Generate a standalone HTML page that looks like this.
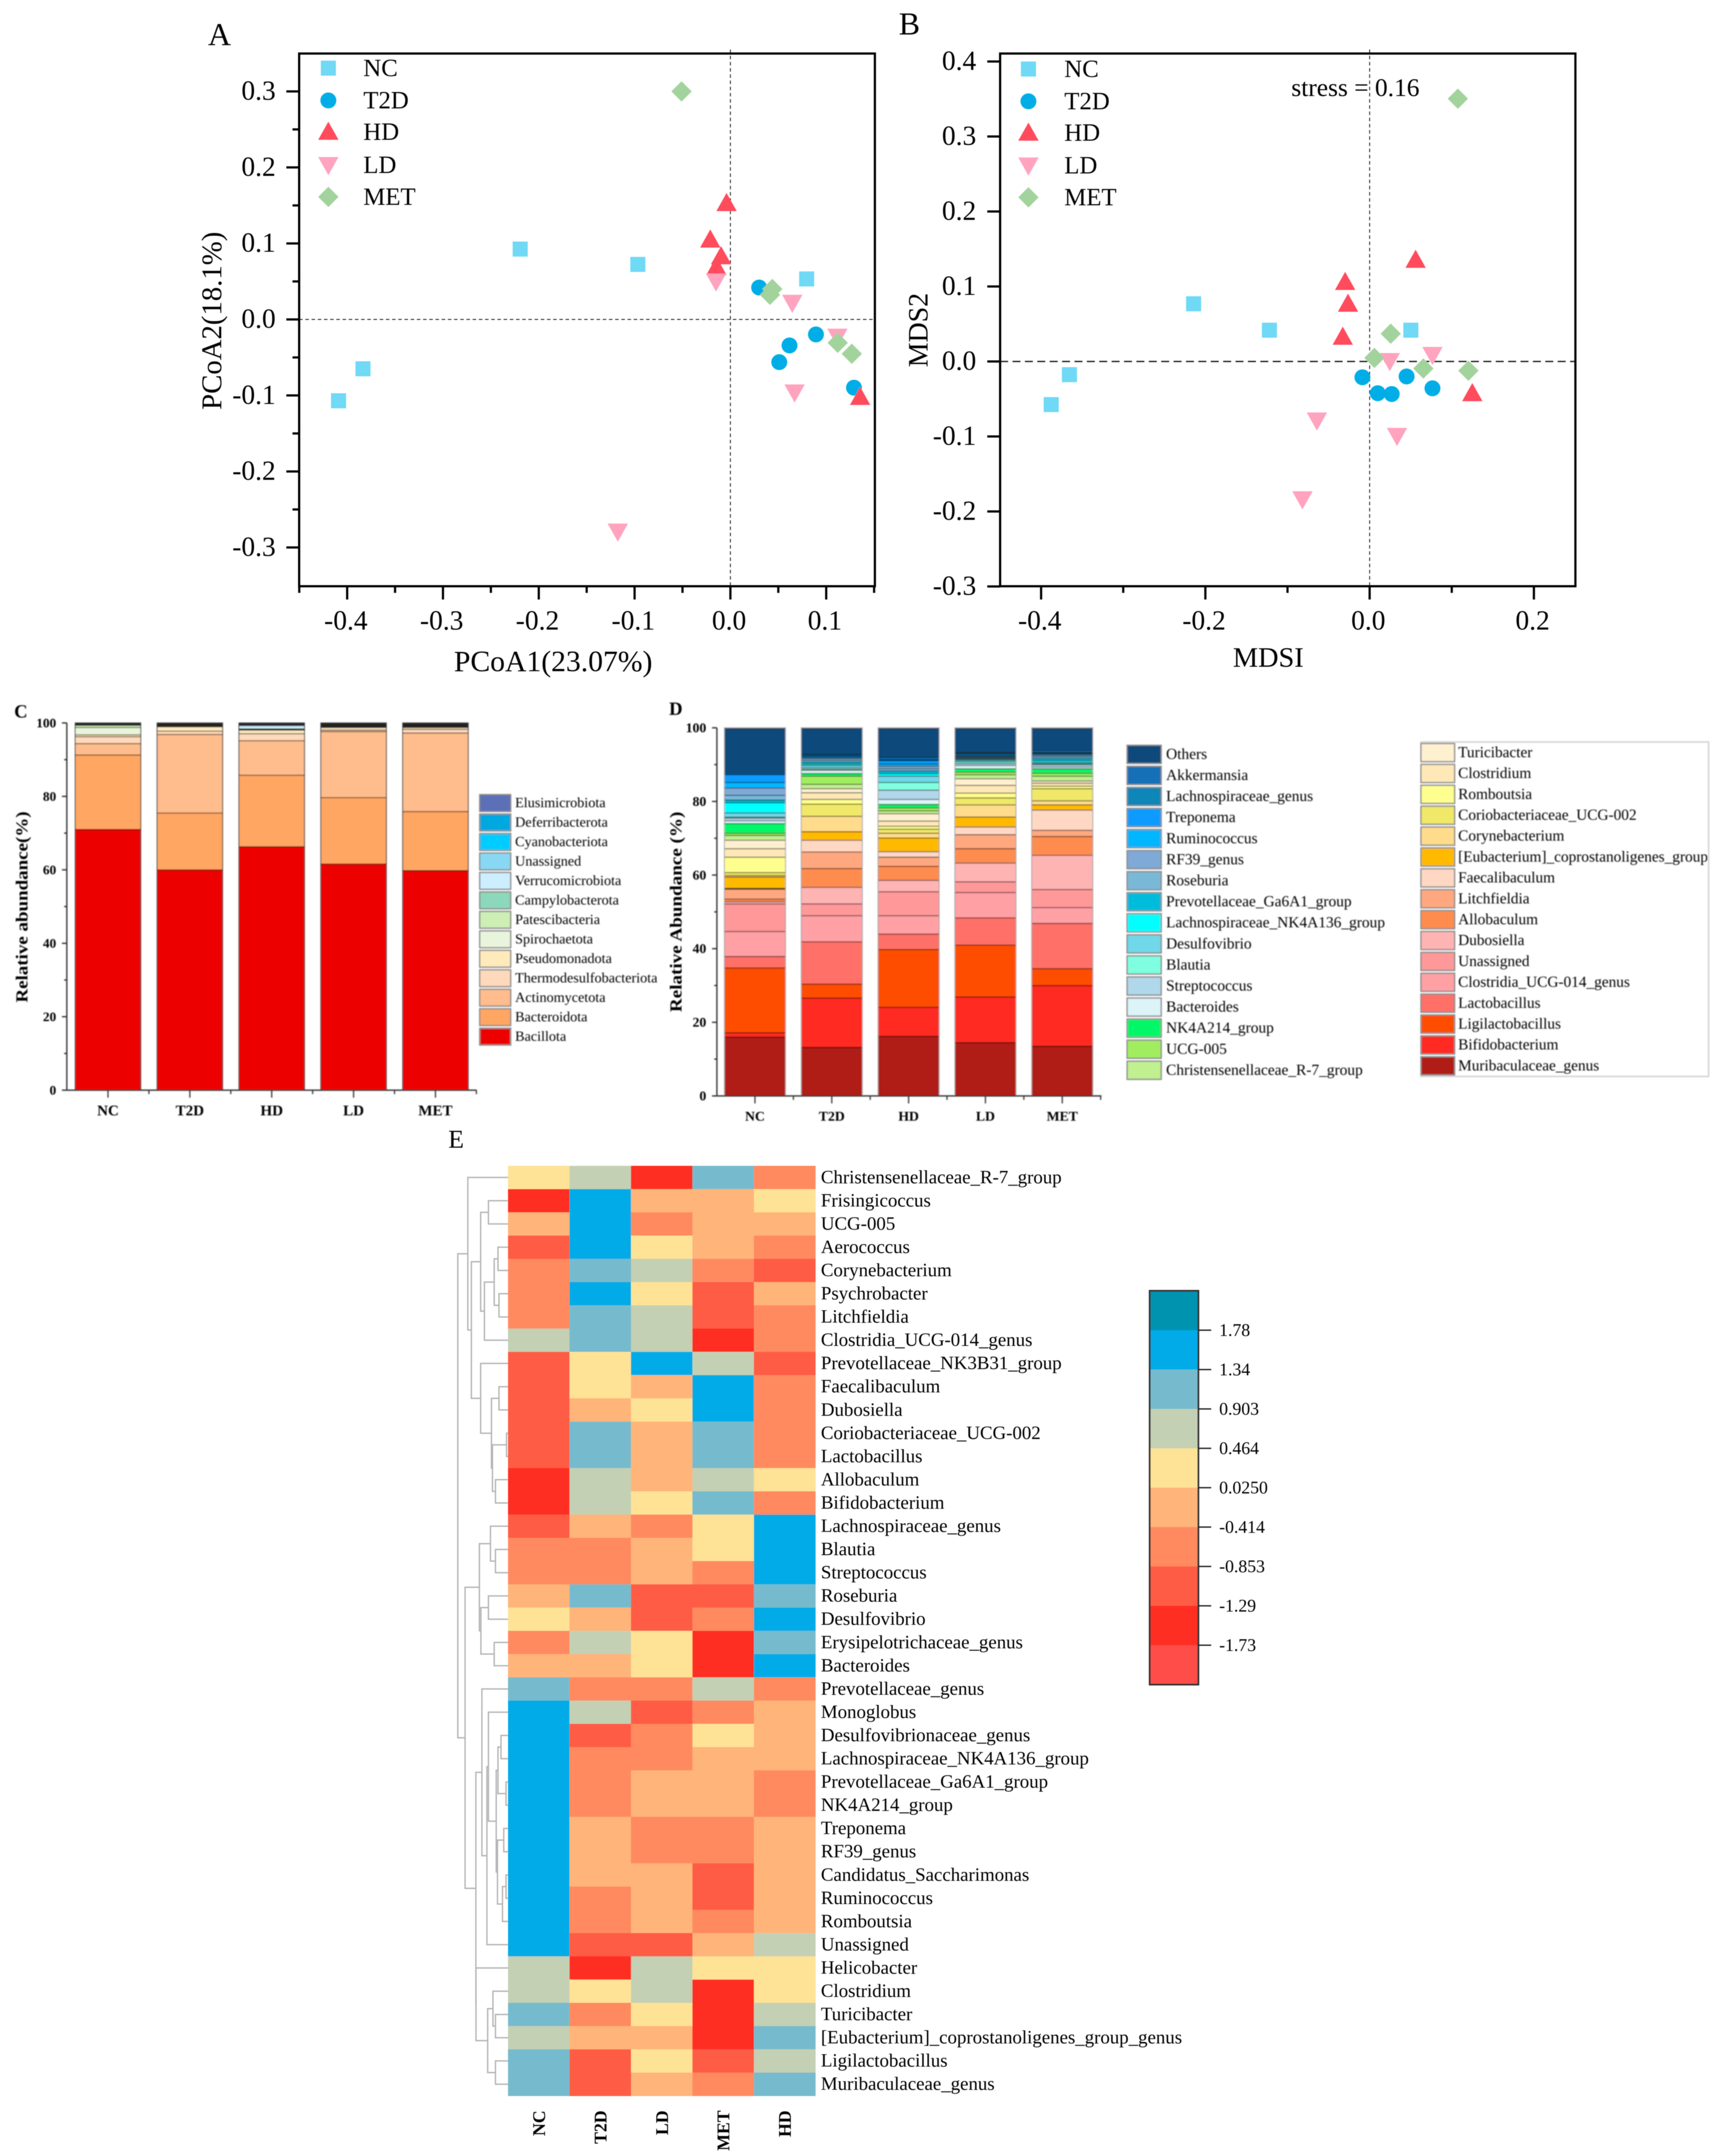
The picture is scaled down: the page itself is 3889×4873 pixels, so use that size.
<!DOCTYPE html>
<html lang="en">
<head>
<meta charset="utf-8">
<title>Gut microbiota composition figure</title>
<style>
html,body{margin:0;padding:0;background:#fff}
svg{display:block}
text{font-family:"Liberation Serif",serif;fill:#000}
.b{font-weight:bold}
</style>
</head>
<body>
<svg id="figure" xmlns="http://www.w3.org/2000/svg" width="3889" height="4873" viewBox="0 0 3889 4873">
<defs>
<filter id="soft" x="-2%" y="-2%" width="104%" height="104%"><feGaussianBlur stdDeviation="1.3"/></filter>
<filter id="softer" x="-2%" y="-2%" width="104%" height="104%"><feGaussianBlur stdDeviation="0.7"/></filter>
</defs>
<rect x="0" y="0" width="3889" height="4873" fill="#fff"/>

<g id="panelA" filter="url(#softer)">
<text x="470" y="102" font-size="72">A</text>
<text x="1250" y="1517" font-size="67" text-anchor="middle">PCoA1(23.07%)</text>
<text transform="translate(500,725) rotate(-90)" font-size="65" text-anchor="middle">PCoA2(18.1%)</text>
</g>

<g id="panelB" filter="url(#softer)">
<text x="2031" y="78" font-size="72">B</text>
<text x="2866" y="1507" font-size="64" text-anchor="middle">MDSI</text>
<text transform="translate(2096,746) rotate(-90)" font-size="63" text-anchor="middle">MDS2</text>
<text x="2918" y="217" font-size="57.5">stress = 0.16</text>
</g>

<g id="panelC" filter="url(#soft)">
<text x="32" y="1622" font-size="42" class="b">C</text>
<text transform="translate(62,2050) rotate(-90)" font-size="38" class="b" text-anchor="middle" textLength="432" lengthAdjust="spacingAndGlyphs">Relative abundance(%)</text>
</g>

<g id="panelD" filter="url(#soft)">
<text x="1512" y="1616" font-size="42" class="b">D</text>
<text transform="translate(1540,2061) rotate(-90)" font-size="38" class="b" text-anchor="middle" textLength="453" lengthAdjust="spacingAndGlyphs">Relative Abundance (%)</text>
<path d="M3209 1677 H3861 V2433 H3209" fill="none" stroke="#cfcfcf" stroke-width="3"/>
</g>

<g id="panelE" filter="url(#softer)">
<text x="1013" y="2594" font-size="58">E</text>
</g>
</svg>

<script>
// ---------- PCoA scatter values (panel A) ----------
const scatterGroups = ['NC', 'T2D', 'HD', 'LD', 'MET'];
const pcoaNcX  = [-0.2194, -0.0966, 0.0796, -0.3835, -0.409];
const pcoaNcY  = [0.0926, 0.0724, 0.0533, -0.0649, -0.107];
const pcoaT2dX = [0.030, 0.0893, 0.0617, 0.051, 0.129];
const pcoaT2dY = [0.042, -0.0197, -0.0342, -0.0562, -0.0898];
const pcoaHdX  = [-0.004, -0.021, -0.0097, -0.0146, 0.1354];
const pcoaHdY  = [0.153, 0.105, 0.083, 0.069, -0.102];
const pcoaLdX  = [-0.015, 0.0646, 0.1117, 0.067, -0.1175];
const pcoaLdY  = [0.05, 0.022, -0.0226, -0.096, -0.279];
const pcoaMetX = [-0.051, 0.0437, 0.0413, 0.112, 0.1267];
const pcoaMetY = [0.30, 0.04, 0.0324, -0.0307, -0.0452];
const pcoaXTicks = [-0.4, -0.3, -0.2, -0.1, 0.0, 0.1];
const pcoaXMinor = [-0.45, -0.35, -0.25, -0.15, -0.05, 0.05, 0.15];
const pcoaYTicks = [-0.3, -0.2, -0.1, 0.0, 0.1, 0.2, 0.3];
const pcoaYMinor = [-0.25, -0.15, -0.05, 0.05, 0.15, 0.25];

// ---------- NMDS scatter values (panel B) ----------
const nmdsNcX  = [-0.2143, -0.122, 0.0502, -0.3655, -0.3877];
const nmdsNcY  = [0.0769, 0.0417, 0.0417, -0.0176, -0.0575];
const nmdsT2dX = [-0.0088, 0.0099, 0.0269, 0.045, 0.0765];
const nmdsT2dY = [-0.0211, -0.0423, -0.0434, -0.02, -0.0358];
const nmdsHdX  = [0.056, -0.0298, -0.0263, -0.0327, 0.125];
const nmdsHdY  = [0.1355, 0.106, 0.0769, 0.0329, -0.0423];
const nmdsLdX  = [0.0765, 0.0245, -0.0642, 0.0333, -0.0818];
const nmdsLdY  = [0.0088, 0.0006, -0.0786, -0.0992, -0.1837];
const nmdsMetX = [0.1074, 0.0257, 0.0058, 0.0654, 0.1203];
const nmdsMetY = [0.3504, 0.037, 0.0047, -0.0094, -0.0123];
const nmdsXTicks = [-0.4, -0.2, 0.0, 0.2];
const nmdsXMinor = [-0.3, -0.1, 0.1];
const nmdsYTicks = [-0.3, -0.2, -0.1, 0.0, 0.1, 0.2, 0.3, 0.4];

// ---------- Phylum stacked bars (panel C) ----------
const barGroups = ['NC', 'T2D', 'HD', 'LD', 'MET'];
const phylumNames = ['Bacillota', 'Bacteroidota', 'Actinomycetota', 'Thermodesulfobacteriota', 'Pseudomonadota', 'Spirochaetota', 'Patescibacteria', 'Campylobacterota', 'Verrucomicrobiota', 'Unassigned', 'Cyanobacteriota', 'Deferribacterota', 'Elusimicrobiota'];
const phylumColors = ['#ec0000', '#ffa664', '#ffbc8c', '#ffd9bc', '#ffeabb', '#e8f4dc', '#cdeeb4', '#8cd8bc', '#cceeff', '#88d8f4', '#00ccff', '#00a8e0', '#5c70b8'];
const phylumNC  = [71.1, 20.3, 3.1, 1.9, 0.5, 2.0, 0.6, 0.1, 0.1, 0.1, 0.1, 0.05, 0.05];
const phylumT2D = [60.1, 15.5, 21.4, 0.9, 1.2, 0.1, 0.1, 0.1, 0.1, 0.1, 0.1, 0.2, 0.1];
const phylumHD  = [66.4, 19.5, 9.4, 1.9, 1.0, 0.1, 0.1, 0.1, 0.9, 0.2, 0.2, 0.1, 0.1];
const phylumLD  = [61.7, 18.1, 18.0, 0.4, 0.7, 0.1, 0.1, 0.1, 0.1, 0.1, 0.2, 0.2, 0.2];
const phylumMET = [59.9, 16.1, 21.4, 1.0, 0.5, 0.1, 0.1, 0.1, 0.1, 0.1, 0.2, 0.2, 0.2];
const stackYTicks = [0, 20, 40, 60, 80, 100];

// ---------- Genus stacked bars (panel D) ----------
const genusNames = ['Muribaculaceae_genus', 'Bifidobacterium', 'Ligilactobacillus', 'Lactobacillus', 'Clostridia_UCG-014_genus', 'Unassigned', 'Dubosiella', 'Allobaculum', 'Litchfieldia', 'Faecalibaculum', '[Eubacterium]_coprostanoligenes_group', 'Corynebacterium', 'Coriobacteriaceae_UCG-002', 'Romboutsia', 'Clostridium', 'Turicibacter', 'Christensenellaceae_R-7_group', 'UCG-005', 'NK4A214_group', 'Bacteroides', 'Streptococcus', 'Blautia', 'Desulfovibrio', 'Lachnospiraceae_NK4A136_group', 'Prevotellaceae_Ga6A1_group', 'Roseburia', 'RF39_genus', 'Ruminococcus', 'Treponema', 'Lachnospiraceae_genus', 'Akkermansia', 'Others'];
const genusColors = ['#b01a12', '#ff2c22', '#ff4e00', '#ff7068', '#ffa0a4', '#ff9898', '#ffb4b4', '#ff8c50', '#ffa880', '#ffd8c4', '#ffba00', '#ffdc8c', '#f0e868', '#ffff90', '#ffe8b8', '#fff0d0', '#c0f090', '#a0ee60', '#00f868', '#dcf3f8', '#b0d8ea', '#80ffe0', '#70d8e8', '#00ffff', '#00bcdc', '#7ab8d8', '#7fa9d6', '#00b7ff', '#0a9bff', '#0a86b8', '#1270b8', '#0b4a7a'];
const genusNC  = [16.1, 1.2, 17.6, 3.1, 6.8, 7.5, 0.6, 0.7, 2.7, 0.2, 3.1, 0.4, 0.8, 4.2, 2.3, 2.3, 1.3, 0.6, 2.6, 0.8, 0.7, 0.3, 1.1, 2.8, 0.7, 1.3, 2.0, 1.5, 2.1, 0, 0, 12.6];
const genusT2D = [13.3, 13.4, 3.8, 11.5, 7.1, 3.2, 4.5, 5.1, 4.5, 3.2, 2.3, 4.2, 3.3, 1.3, 1.8, 1.1, 1.2, 2.2, 0.7, 0.9, 0.3, 0.4, 0.6, 0.4, 0.5, 0.5, 0.5, 0.3, 0.3, 0.3, 0.3, 7.0];
const genusHD  = [16.3, 7.9, 15.7, 4.2, 5.0, 6.5, 3.1, 3.8, 2.5, 1.5, 3.7, 1.3, 1.1, 0.8, 1.4, 2.0, 0.8, 0.8, 0.9, 1.4, 2.5, 2.1, 1.7, 0.7, 0.7, 0.6, 0.7, 0.6, 0.9, 0.3, 0.6, 7.9];
const genusLD  = [14.6, 12.4, 14.1, 7.4, 6.9, 2.9, 5.1, 3.9, 3.8, 2.1, 2.7, 3.3, 1.9, 1.3, 2.1, 1.8, 1.1, 0.7, 0.9, 0.9, 0.5, 0.5, 0.4, 0.3, 0.2, 0.3, 0.2, 0.3, 0.3, 0.3, 0.2, 6.6];
const genusMET = [13.6, 16.5, 4.6, 12.3, 4.3, 4.9, 9.3, 5.1, 1.7, 5.5, 1.4, 1.1, 3.3, 0.7, 0.8, 0.6, 1.3, 0.8, 1.2, 0.5, 0.6, 0.3, 0.3, 0.5, 0.6, 0.5, 0.4, 0.3, 0.2, 0.3, 0.5, 6.0];

// ---------- Heatmap (panel E) ----------
const heatRows = ['Christensenellaceae_R-7_group', 'Frisingicoccus', 'UCG-005', 'Aerococcus', 'Corynebacterium', 'Psychrobacter', 'Litchfieldia', 'Clostridia_UCG-014_genus', 'Prevotellaceae_NK3B31_group', 'Faecalibaculum', 'Dubosiella', 'Coriobacteriaceae_UCG-002', 'Lactobacillus', 'Allobaculum', 'Bifidobacterium', 'Lachnospiraceae_genus', 'Blautia', 'Streptococcus', 'Roseburia', 'Desulfovibrio', 'Erysipelotrichaceae_genus', 'Bacteroides', 'Prevotellaceae_genus', 'Monoglobus', 'Desulfovibrionaceae_genus', 'Lachnospiraceae_NK4A136_group', 'Prevotellaceae_Ga6A1_group', 'NK4A214_group', 'Treponema', 'RF39_genus', 'Candidatus_Saccharimonas', 'Ruminococcus', 'Romboutsia', 'Unassigned', 'Helicobacter', 'Clostridium', 'Turicibacter', '[Eubacterium]_coprostanoligenes_group_genus', 'Ligilactobacillus', 'Muribaculaceae_genus'];
const heatColumns = ['NC', 'T2D', 'LD', 'MET', 'HD'];
const heatNC  = [0.24, -1.51, -0.19, -1.07, -0.63, -0.63, -0.63, 0.68, -1.07, -1.07, -1.07, -1.07, -1.07, -1.51, -1.51, -1.07, -0.63, -0.63, -0.19, 0.24, -0.63, -0.19, 1.12, 1.56, 1.56, 1.56, 1.56, 1.56, 1.56, 1.56, 1.56, 1.56, 1.56, 1.56, 0.68, 0.68, 1.12, 0.68, 1.12, 1.12];
const heatT2D = [0.68, 1.56, 1.56, 1.56, 1.12, 1.56, 1.12, 1.12, 0.24, 0.24, -0.19, 1.12, 1.12, 0.68, 0.68, -0.19, -0.63, -0.63, 1.12, -0.19, 0.68, -0.19, -0.63, 0.68, -1.07, -0.63, -0.63, -0.63, -0.19, -0.19, -0.19, -0.63, -0.63, -1.07, -1.51, 0.24, -0.63, -0.19, -1.07, -1.07];
const heatLD  = [-1.51, -0.19, -0.63, 0.24, 0.68, 0.24, 0.68, 0.68, 1.56, -0.19, 0.24, -0.19, -0.19, -0.19, 0.24, -0.63, -0.19, -0.19, -1.07, -1.07, 0.24, 0.24, -0.63, -1.07, -0.63, -0.63, -0.19, -0.19, -0.63, -0.63, -0.19, -0.19, -0.19, -1.07, 0.68, 0.68, 0.24, -0.19, 0.24, -0.19];
const heatMET = [1.12, -0.19, -0.19, -0.19, -0.63, -1.07, -1.07, -1.51, 0.68, 1.56, 1.56, 1.12, 1.12, 0.68, 1.12, 0.24, 0.24, -0.63, -1.07, -0.63, -1.51, -1.51, 0.68, -0.63, 0.24, -0.19, -0.19, -0.19, -0.63, -0.63, -1.07, -1.07, -0.63, -0.19, 0.24, -1.51, -1.51, -1.51, -1.07, -0.63];
const heatHD  = [-0.63, 0.24, -0.19, -0.63, -1.07, -0.19, -0.63, -0.63, -1.07, -0.63, -0.63, -0.63, -0.63, 0.24, -0.63, 1.56, 1.56, 1.56, 1.12, 1.56, 1.12, 1.56, -0.63, -0.19, -0.19, -0.19, -0.63, -0.63, -0.19, -0.19, -0.19, -0.19, -0.19, 0.68, 0.24, 0.24, 0.68, 1.12, 0.68, 1.12];
const scaleTicks = [1.78, 1.34, 0.903, 0.464, 0.025, -0.414, -0.853, -1.29, -1.73];
const scaleTickLabels = ['1.78', '1.34', '0.903', '0.464', '0.0250', '-0.414', '-0.853', '-1.29', '-1.73'];
const scaleColors = ['#0093b0', '#00abe8', '#76bbcd', '#c4d0b3', '#fee296', '#ffb47a', '#ff8a60', '#ff5c44', '#ff2e22', '#ff4d48'];
// Dendrogram merges: [merge distance, child, child]; numeric children are row indexes.
const dendroTree = [1, [0.8, 0, [0.73, [0.545, [0.39, 1, 2], [0.47, [0.275, [0.2, 3, 4], [0.18, 5, 6]], 7]], [0.545, 8, [0.33, [0.18, 9, 10], [0.31, [0.03, 11, 12], [0.25, 13, 14]]]]]], [0.855, [0.57, [0.35, 15, [0.25, 16, 17]], [0.54, [0.39, 18, 19], [0.275, 20, 21]]], [0.64, [0.52, 22, [0.42, [0.39, 23, [0.235, [0.2, [0.14, 24, 25], [0.04, 26, 27]], [0.21, [0.085, 28, 29], [0.11, [0.04, 30, 31], 32]]]], 33]], [0.638, 34, [0.405, [0.3, 35, [0.25, 36, 37]], [0.25, 38, 39]]]]]];

// ---------- helpers ----------
const NS = 'http://www.w3.org/2000/svg';
function mk(parent, tag, attrs, txt) {
  const el = document.createElementNS(NS, tag);
  for (const k in attrs) el.setAttribute(k, attrs[k]);
  if (txt !== undefined) el.textContent = txt;
  parent.appendChild(el);
  return el;
}
function darken(hex, f) {
  const n = parseInt(hex.slice(1), 16);
  const r = Math.round(((n >> 16) & 255) * f), g = Math.round(((n >> 8) & 255) * f), b = Math.round((n & 255) * f);
  return 'rgb(' + r + ',' + g + ',' + b + ')';
}
const markerShape = { NC: 'square', T2D: 'circle', HD: 'up', LD: 'down', MET: 'diamond' };
const markerColor = { NC: '#6fd9f5', T2D: '#00ade6', HD: '#ff4b5c', LD: '#ffa3bf', MET: '#a3d39c' };
function marker(parent, group, cx, cy) {
  const shape = markerShape[group], fill = markerColor[group];
  if (shape === 'square') return mk(parent, 'rect', { x: cx - 17, y: cy - 17, width: 34, height: 34, fill: fill });
  if (shape === 'circle') return mk(parent, 'circle', { cx: cx, cy: cy, r: 18, fill: fill });
  if (shape === 'up') return mk(parent, 'polygon', { points: (cx) + ',' + (cy - 23) + ' ' + (cx + 23) + ',' + (cy + 18) + ' ' + (cx - 23) + ',' + (cy + 18), fill: fill });
  if (shape === 'down') return mk(parent, 'polygon', { points: (cx) + ',' + (cy + 23) + ' ' + (cx + 23) + ',' + (cy - 18) + ' ' + (cx - 23) + ',' + (cy - 18), fill: fill });
  return mk(parent, 'polygon', { points: (cx) + ',' + (cy - 23) + ' ' + (cx + 23) + ',' + (cy) + ' ' + (cx) + ',' + (cy + 23) + ' ' + (cx - 23) + ',' + (cy), fill: fill });
}

function drawScatter(cfg) {
  const g = cfg.parent;
  const xOf = cfg.xOf, yOf = cfg.yOf;
  // zero lines
  const hz = mk(g, 'line', { x1: cfg.left, x2: cfg.right, y1: yOf(0), y2: yOf(0), stroke: '#222', 'stroke-width': cfg.hzWidth, 'stroke-dasharray': cfg.hzDash });
  
  
  const vt = mk(g, 'line', { x1: xOf(0), x2: xOf(0), y1: cfg.top - 9, y2: cfg.bottom, stroke: '#222', 'stroke-width': 2, 'stroke-dasharray': '8 6' });
  
  
  // marks
  scatterGroups.forEach(function (group, gi) {
    const xs = cfg.xs[gi], ys = cfg.ys[gi];
    xs.forEach(function (v, i) {
      const m = marker(g, group, xOf(v), yOf(ys[i]));
      
      
    });
  });
  // frame
  const fr = mk(g, 'rect', { x: cfg.left, y: cfg.top, width: cfg.right - cfg.left, height: cfg.bottom - cfg.top, fill: 'none', stroke: '#000', 'stroke-width': 5 });
  
  
  // x ticks
  cfg.xTicks.forEach(function (v) {
    const t = mk(g, 'line', { x1: xOf(v), x2: xOf(v), y1: cfg.bottom, y2: cfg.bottom + 30, stroke: '#000', 'stroke-width': 5 });
    
    
    const l = mk(g, 'text', { x: xOf(v) - 3, y: 1423, 'font-size': 62, 'text-anchor': 'middle' }, v.toFixed(1));
    
    
  });
  cfg.xMinor.forEach(function (v) {
    const t = mk(g, 'line', { x1: xOf(v), x2: xOf(v), y1: cfg.bottom, y2: cfg.bottom + 15, stroke: '#000', 'stroke-width': 5 });
    
    
  });
  // y ticks
  cfg.yTicks.forEach(function (v) {
    const t = mk(g, 'line', { x1: cfg.left - 29, x2: cfg.left, y1: yOf(v), y2: yOf(v), stroke: '#000', 'stroke-width': 5 });
    
    
    const l = mk(g, 'text', { x: cfg.yLabelRight, y: yOf(v) + 19, 'font-size': 62, 'text-anchor': 'end' }, v.toFixed(1));
    
    
  });
  cfg.yMinor.forEach(function (v) {
    const t = mk(g, 'line', { x1: cfg.left - 15, x2: cfg.left, y1: yOf(v), y2: yOf(v), stroke: '#000', 'stroke-width': 5 });
    
    
  });
  // legend
  scatterGroups.forEach(function (group, gi) {
    const ly = cfg.legendY[gi];
    const m = marker(g, group, cfg.legendX, ly);
    
    
    const l = mk(g, 'text', { x: cfg.legendTextX, y: ly + 18, 'font-size': 56 }, group);
    
    
  });
}

drawScatter({
  parent: document.getElementById('panelA'),
  xOf: function (v) { return 1650.5 + v * 2165; },
  yOf: function (v) { return 722 - v * 1718; },
  left: 676, right: 1977, top: 121, bottom: 1325,
  hzWidth: 2, hzDash: '8 6',
  xs: [pcoaNcX, pcoaT2dX, pcoaHdX, pcoaLdX, pcoaMetX],
  ys: [pcoaNcY, pcoaT2dY, pcoaHdY, pcoaLdY, pcoaMetY],
  xTicks: pcoaXTicks, xMinor: pcoaXMinor, yTicks: pcoaYTicks, yMinor: pcoaYMinor,
  yLabelRight: 623,
  legendX: 742, legendTextX: 821, legendY: [154, 227, 298, 373, 445]
});
drawScatter({
  parent: document.getElementById('panelB'),
  xOf: function (v) { return 3095 + v * 1856; },
  yOf: function (v) { return 817 - v * 1695; },
  left: 2260, right: 3560, top: 121, bottom: 1325,
  hzWidth: 3, hzDash: '18 10',
  xs: [nmdsNcX, nmdsT2dX, nmdsHdX, nmdsLdX, nmdsMetX],
  ys: [nmdsNcY, nmdsT2dY, nmdsHdY, nmdsLdY, nmdsMetY],
  xTicks: nmdsXTicks, xMinor: nmdsXMinor, yTicks: nmdsYTicks, yMinor: [],
  yLabelRight: 2206,
  legendX: 2324, legendTextX: 2405, legendY: [156, 229, 300, 374, 446]
});

function drawStack(cfg) {
  const g = cfg.parent;
  const yOf = function (v) { return cfg.bottom - v * (cfg.bottom - cfg.top) / 100; };
  const barX = function (i) { return cfg.firstBar + i * cfg.step; };
  barGroups.forEach(function (group, gi) {
    const vals = cfg.values[gi];
    let acc = 0;
    vals.forEach(function (v, si) {
      const y1 = yOf(acc + v), y0 = yOf(acc);
      acc += v;
      if (v <= 0) return;
      const r = mk(g, 'rect', { x: barX(gi), y: y1, width: cfg.barW, height: Math.max(0, y0 - y1), fill: cfg.colors[si] });
      
      
      const ln = mk(g, 'line', { x1: barX(gi), x2: barX(gi) + cfg.barW, y1: y1 + 1, y2: y1 + 1, stroke: v < 0.3 ? '#222' : darken(cfg.colors[si], 0.5), 'stroke-width': 3 });
      
      
    });
    const box = mk(g, 'rect', { x: barX(gi), y: yOf(100), width: cfg.barW, height: cfg.bottom - yOf(100), fill: 'none', stroke: cfg.sideStroke, 'stroke-width': 2 });
    
    
    const cx = barX(gi) + cfg.barW / 2;
    const tk = mk(g, 'line', { x1: cx, x2: cx, y1: cfg.bottom, y2: cfg.bottom + 17, stroke: '#444', 'stroke-width': 3 });
    
    
    const lab = mk(g, 'text', { x: cx, y: cfg.xLabelY, 'font-size': cfg.xFont, 'text-anchor': 'middle', 'class': 'b' }, group);
    
    
    const mt = mk(g, 'line', { x1: cx + cfg.step / 2, x2: cx + cfg.step / 2, y1: cfg.bottom, y2: cfg.bottom + 9, stroke: '#444', 'stroke-width': 3 });
    
    
  });
  const axX = mk(g, 'line', { x1: cfg.axisX, x2: cfg.axisRight, y1: cfg.bottom, y2: cfg.bottom, stroke: '#333', 'stroke-width': 3 });
  
  
  const axY = mk(g, 'line', { x1: cfg.axisX, x2: cfg.axisX, y1: cfg.top, y2: cfg.bottom, stroke: '#333', 'stroke-width': 3 });
  
  
  stackYTicks.forEach(function (v) {
    const t = mk(g, 'line', { x1: cfg.axisX - 11, x2: cfg.axisX, y1: yOf(v), y2: yOf(v), stroke: '#333', 'stroke-width': 3 });
    
    
    const l = mk(g, 'text', { x: cfg.yLabelRight, y: yOf(v) + 10, 'font-size': cfg.yFont, 'text-anchor': 'end', 'class': 'b' }, String(v));
    
    
    if (v < 100) {
      const mt = mk(g, 'line', { x1: cfg.axisX - 6, x2: cfg.axisX, y1: yOf(v + 10), y2: yOf(v + 10), stroke: '#333', 'stroke-width': 3 });
      
      
    }
  });
}

function legendRows(parent, names, colors, x, y0, step, swW, swH, textX, font) {
  names.forEach(function (name, i) {
    const cy = y0 + i * step;
    const sw = mk(parent, 'rect', { x: x, y: cy - swH / 2, width: swW, height: swH, fill: colors[i], stroke: '#8c8c8c', 'stroke-width': 3 });
    
    
    const t = mk(parent, 'text', { x: textX, y: cy + font * 0.3, 'font-size': font }, name);
    
    
  });
}

const panelC = document.getElementById('panelC');
drawStack({
  parent: panelC, top: 1634, bottom: 2464, firstBar: 170, step: 185, barW: 148,
  values: [phylumNC, phylumT2D, phylumHD, phylumLD, phylumMET], colors: phylumColors,
  sideStroke: '#3c3c3c', axisX: 151, axisRight: 1077, yLabelRight: 127, yFont: 30, xFont: 34, xLabelY: 2521
});
legendRows(panelC, phylumNames.slice().reverse(), phylumColors.slice().reverse(), 1084, 1815, 44, 70, 38, 1164, 32);

const panelD = document.getElementById('panelD');
drawStack({
  parent: panelD, top: 1645, bottom: 2477, firstBar: 1637, step: 173.6, barW: 138,
  values: [genusNC, genusT2D, genusHD, genusLD, genusMET], colors: genusColors,
  sideStroke: '#a5a5a5', axisX: 1620, axisRight: 2489, yLabelRight: 1596, yFont: 31, xFont: 31, xLabelY: 2533
});
const genusRev = genusNames.slice().reverse(), genusColRev = genusColors.slice().reverse();
legendRows(panelD, genusRev.slice(0, 16), genusColRev.slice(0, 16), 2547, 1705, 47.6, 77, 41, 2635, 34.8);
legendRows(panelD, genusRev.slice(16), genusColRev.slice(16), 3211, 1701, 47.2, 76, 41, 3295, 34.6);

// ---------- heatmap ----------
const panelE = document.getElementById('panelE');
const hmLeft = 1148, hmTop = 2635, hmColW = 138.9, hmRowH = 52.55;
function heatColor(v) {
  for (let i = 0; i < scaleTicks.length; i++) if (v >= scaleTicks[i]) return scaleColors[i];
  return scaleColors[scaleColors.length - 1];
}
[heatNC, heatT2D, heatLD, heatMET, heatHD].forEach(function (col, ci) {
  col.forEach(function (v, ri) {
    const cell = mk(panelE, 'rect', { x: hmLeft + ci * hmColW, y: hmTop + ri * hmRowH, width: hmColW + 0.5, height: hmRowH + 0.5, fill: heatColor(v) });
    
    
  });
  const cx = hmLeft + (ci + 0.5) * hmColW;
  const lab = mk(panelE, 'text', { transform: 'translate(' + (cx + 14) + ',4770) rotate(-90)', 'font-size': 40, 'text-anchor': 'end', 'class': 'b' }, heatColumns[ci]);
  
  
});
heatRows.forEach(function (name, ri) {
  const t = mk(panelE, 'text', { x: 1855, y: hmTop + (ri + 0.5) * hmRowH + 13, 'font-size': 42.6 }, name);
  
  
});
function drawDendro(node) {
  if (typeof node === 'number') return { x: hmLeft, y: hmTop + (node + 0.5) * hmRowH };
  const a = drawDendro(node[1]), b = drawDendro(node[2]);
  const x = hmLeft - node[0] * 113.5;
  const p = mk(panelE, 'path', { d: 'M' + a.x + ' ' + a.y + 'H' + x + 'V' + b.y + 'H' + b.x, fill: 'none', stroke: '#b4b4b4', 'stroke-width': 3 });
  
  
  return { x: x, y: (a.y + b.y) / 2 };
}
drawDendro(dendroTree);

// ---------- colour scale ----------
const cbTop = 2917.5, cbSeg = 89, cbLeft = 2598, cbW = 110;
scaleColors.forEach(function (c, i) {
  const r = mk(panelE, 'rect', { x: cbLeft, y: cbTop + i * cbSeg, width: cbW, height: cbSeg + 0.5, fill: c });
  
  
});
const cbFrame = mk(panelE, 'rect', { x: cbLeft, y: cbTop, width: cbW, height: cbSeg * scaleColors.length, fill: 'none', stroke: '#333', 'stroke-width': 4 });


scaleTickLabels.forEach(function (lab, i) {
  const y = cbTop + (i + 1) * cbSeg;
  const t = mk(panelE, 'line', { x1: cbLeft + cbW, x2: cbLeft + cbW + 29, y1: y, y2: y, stroke: '#222', 'stroke-width': 3 });
  
  
  const l = mk(panelE, 'text', { x: 2755, y: y + 13, 'font-size': 40 }, lab);
  
  
});
</script>
</body>
</html>
